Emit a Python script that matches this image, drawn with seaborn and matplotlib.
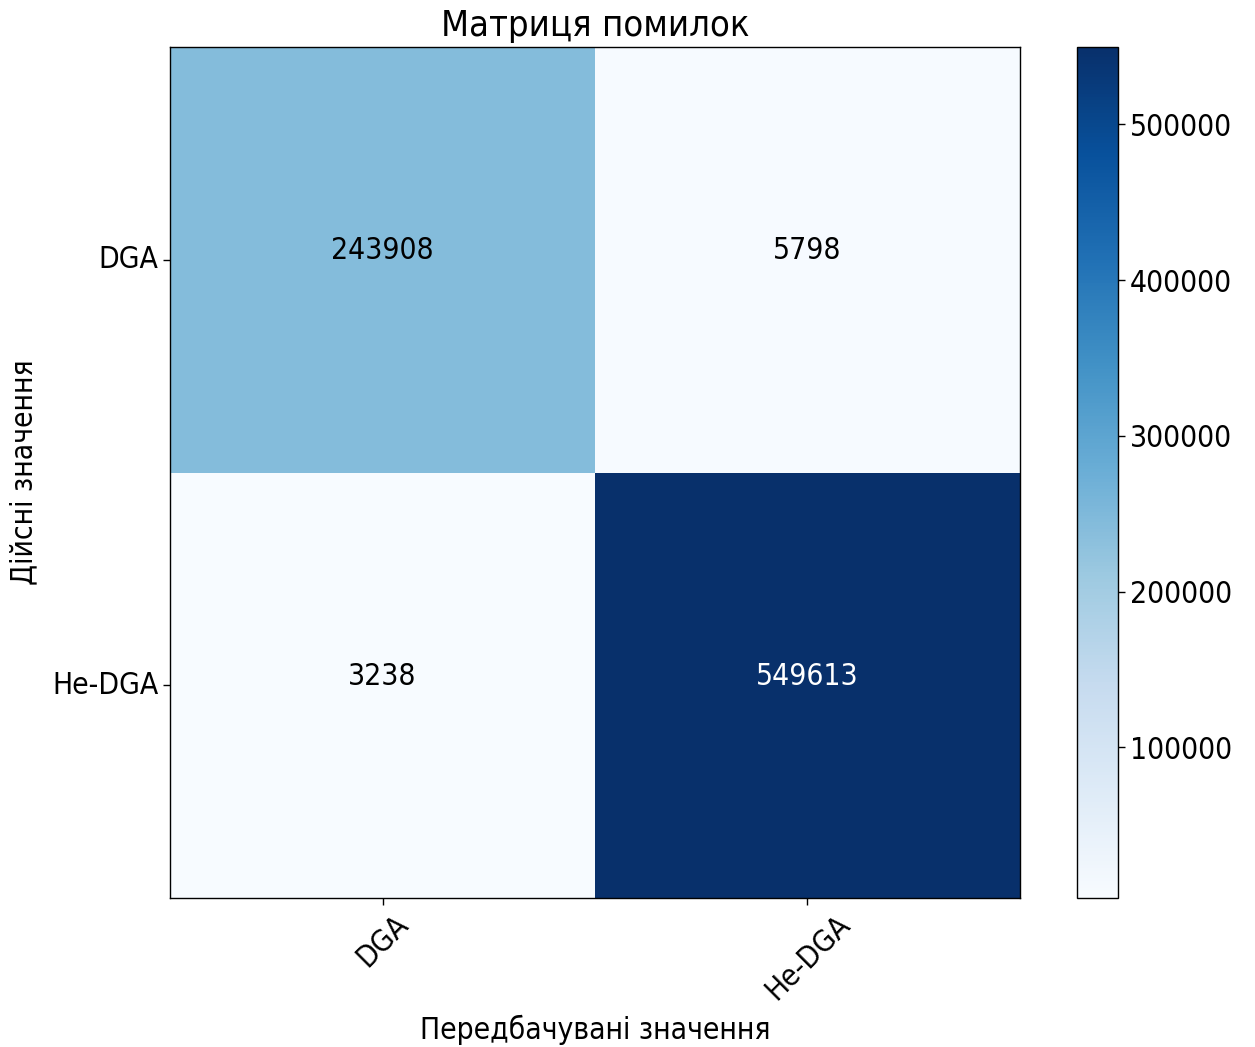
import numpy as np
import pandas as pd
import seaborn as sns
import matplotlib
matplotlib.use("Agg")
import matplotlib.pyplot as plt
from matplotlib import transforms
from matplotlib.colors import to_rgb

# Confusion matrix counts (rows: actual, columns: predicted)
class_labels = ["DGA", "Не-DGA"]
row_dga = [243908, 5798]
row_not_dga = [3238, 549613]

cm = pd.DataFrame([row_dga, row_not_dga], index=class_labels, columns=class_labels)

sns.set_style("white")
plt.rcParams["font.family"] = ["DejaVu Sans"]
plt.rcParams["font.stretch"] = "condensed"
for key in ("text.color", "axes.labelcolor", "xtick.color", "ytick.color"):
    plt.rcParams[key] = "black"
fs = 21.5

fig = plt.figure(figsize=(12.55, 10.47), dpi=100)
ax = fig.add_axes([170 / 1255, 149 / 1047, 850 / 1255, 851 / 1047])
cax = fig.add_axes([1077 / 1255, 149 / 1047, 41 / 1255, 851 / 1047])

sns.heatmap(cm, annot=True, fmt="d", cmap="Blues", ax=ax, cbar_ax=cax,
            annot_kws={"fontsize": fs}, linewidths=0)

# cell labels: black on light cells, white on dark ones, nudged slightly upward
lift = transforms.offset_copy(ax.transData, fig=fig, x=0, y=9, units="dots")
for t in ax.texts:
    if to_rgb(t.get_color()) != (1.0, 1.0, 1.0):
        t.set_color("black")
    t.set_transform(lift)

for s in ax.spines.values():
    s.set_visible(True)
    s.set_color("black")
    s.set_linewidth(1.0)

ax.set_title("Матриця помилок", fontsize=26, pad=8)
ax.set_xlabel("Передбачувані значення", fontsize=fs, labelpad=7)
ax.set_ylabel("Дійсні значення", fontsize=fs, labelpad=10)
ax.tick_params(axis="both", which="major", length=5, width=1, labelsize=fs,
               bottom=True, left=True, color="black")
plt.setp(ax.get_xticklabels(), rotation=45, ha="center")
plt.setp(ax.get_yticklabels(), rotation=0)

cax.set_yticks([100000, 200000, 300000, 400000, 500000])
cax.tick_params(labelsize=fs, length=5, width=1, right=True, color="black")
cb = ax.collections[0].colorbar
cb.outline.set_visible(True)
cb.outline.set_edgecolor("black")
cb.outline.set_linewidth(1.0)

fig.savefig("out.png", dpi=100)
